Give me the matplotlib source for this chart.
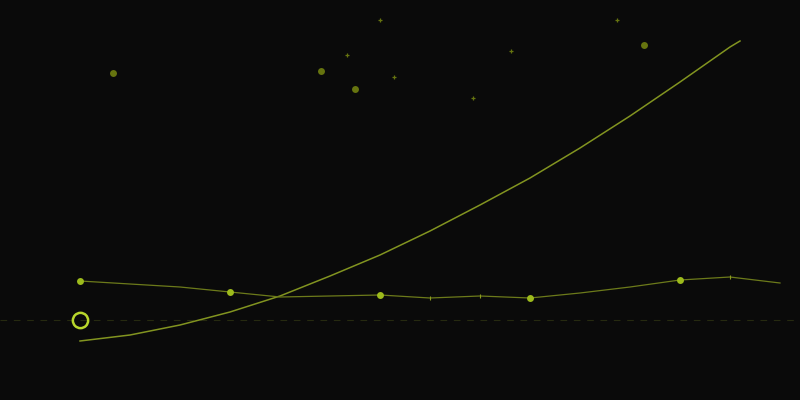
import numpy as np
import matplotlib.pyplot as plt

# wave series, one point every step
wave_x = list(range(15))
wave_y = [3.9, 3.6, 3.3, 2.8, 2.3, 2.4, 2.5, 2.2, 2.4, 2.2, 2.7, 3.3, 4.0, 4.3, 3.7]
key_idx = [0, 3, 6, 9, 12]
tick_idx = [7, 8, 13]

# rising curve
curve_x = [0, 1, 2, 3, 4, 5, 6, 7, 8, 9, 10, 11, 12, 13, 13.2]
curve_y = [-2.1, -1.5, -0.5, 0.8, 2.4, 4.4, 6.5, 8.9, 11.5, 14.2, 17.2, 20.4, 23.8, 27.3, 27.9]

# scattered dots at the top
big_x = [0.66, 4.82, 5.5, 11.28]
big_y = [24.7, 24.9, 23.1, 27.5]
small_x = [6.0, 5.34, 6.28, 7.86, 8.62, 10.74]
small_y = [30.0, 26.5, 24.3, 22.2, 26.9, 30.0]

# hollow ring on the baseline
ring_x = [0]
ring_y = [0]
baseline = 0

bg = '#0a0a0a'
fig = plt.figure(figsize=(8, 4), dpi=100, facecolor=bg)
ax = fig.add_axes([0, 0, 1, 1], facecolor=bg)

ax.axhline(baseline, color='#262a10', lw=0.8, ls=(0, (6, 6)), zorder=1)

ax.plot(curve_x, curve_y, color='#829420', lw=1.1, zorder=2)

ax.plot(wave_x, wave_y, color='#6c7a1a', lw=0.9, zorder=3)
ax.plot([wave_x[i] for i in key_idx], [wave_y[i] for i in key_idx], 'o',
        color='#9dbb1c', ms=5, mec='none', zorder=4)
ax.plot([wave_x[i] for i in tick_idx], [wave_y[i] for i in tick_idx], '|',
        color='#8a9c1e', ms=3, mew=0.8, zorder=4)

ax.plot(big_x, big_y, 'o', color='#66740f', ms=5, mec='none', zorder=2)
ax.plot(small_x, small_y, '+', color='#66740f', ms=3, mew=0.9, zorder=2)

ax.plot(ring_x, ring_y, 'o', mfc='none', mec='#b8d62c', ms=11, mew=1.8, zorder=5)

ax.set_xlim(-1.6, 14.4)
ax.set_ylim(-8, 32)
ax.axis('off')

fig.savefig('out.png', dpi=100, facecolor=bg)
